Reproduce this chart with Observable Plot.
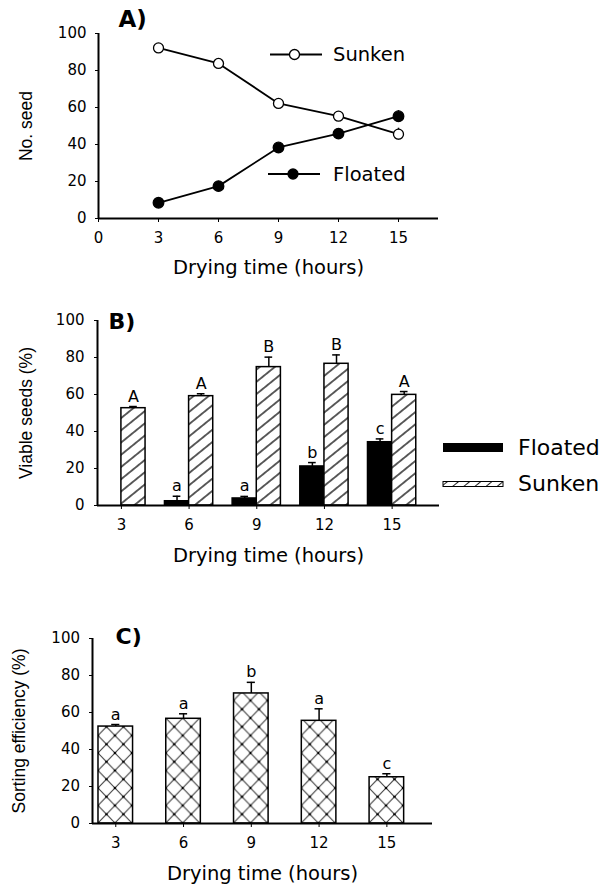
<!DOCTYPE html>
<html><head><meta charset="utf-8">
<script src="https://cdn.jsdelivr.net/npm/d3@7"></script>
<script src="https://cdn.jsdelivr.net/npm/@observablehq/plot@0.6"></script>
<style>
body{margin:0;background:#fff;}
#wrap{width:608px;height:885px;position:relative;overflow:hidden;}
#wrap svg{display:block;}
</style></head><body><div id="wrap"></div>
<script>
// ---------- data ----------
const hours = [3, 6, 9, 12, 15];
const yTicks = [0, 20, 40, 60, 80, 100];
const xTicksA = [0, 3, 6, 9, 12, 15];
const xLabel = "Drying time (hours)";
// Panel A: number of seeds
const sunkenCount = [92.2, 83.8, 62.2, 55.3, 45.6];
const sunkenCountErr = [1, 1, 1, 1.2, 3.2];
const floatedCount = [8.5, 17.5, 38.4, 45.9, 55.3];
const floatedCountErr = [1, 1, 1.2, 1.2, 3];
// Panel B: viable seeds (%)
const floatedViable = [0, 2.3, 3.8, 21.1, 34.2];
const floatedViableErr = [0, 2.7, 1.1, 2.1, 1.8];
const floatedLetters = ["", "a", "a", "b", "c"];
const sunkenViable = [52.6, 59.1, 74.8, 76.6, 59.8];
const sunkenViableErr = [0.9, 1.3, 5.4, 4.8, 1.8];
const sunkenLetters = ["A", "A", "B", "B", "A"];
// Panel C: sorting efficiency (%)
const sortingEff = [52.4, 56.6, 70.3, 55.5, 25.0];
const sortingErr = [1.1, 2.7, 6.0, 6.5, 1.9];
const sortingLetters = ["a", "a", "b", "a", "c"];

// ---------- helpers ----------
const FONT = "'DejaVu Sans', sans-serif";
const ROT = "'Liberation Sans', Arial, sans-serif";
const NS = "http://www.w3.org/2000/svg";
const wrap = document.getElementById("wrap");
function addDefs(svg, html) {
  const defs = document.createElementNS(NS, "defs");
  defs.innerHTML = html;
  svg.insertBefore(defs, svg.firstChild);
}
const baseStyle = {fontFamily: FONT, fontSize: "15px", color: "#000", background: "#fff", overflow: "visible"};
function legendText(g, x, y, size, label) {
  g.append("text").attr("x", x).attr("y", y).attr("text-anchor", "start")
    .attr("dominant-baseline", "central").attr("font-size", size)
    .attr("font-family", FONT).attr("fill", "#000").text(label);
}

// ---------- Panel A ----------
const rowsA = [
  ...hours.map((h, i) => ({h, series: "Sunken", v: sunkenCount[i], e: sunkenCountErr[i]})),
  ...hours.map((h, i) => ({h, series: "Floated", v: floatedCount[i], e: floatedCountErr[i]}))
];
const xDomA = [0, 17];
const plotA = Plot.plot({
  width: 608, height: 290, marginTop: 33, marginBottom: 72, marginLeft: 98, marginRight: 170,
  style: baseStyle,
  x: {domain: xDomA, ticks: xTicksA, tickSize: 4, tickPadding: 10, label: null},
  y: {domain: [0, 100], ticks: yTicks, tickSize: 3, tickPadding: 9, label: null},
  marks: [
    Plot.ruleX(rowsA, {x: "h", y1: d => d.v - d.e, y2: d => d.v + d.e, stroke: "#000", strokeWidth: 1.5}),
    Plot.line(rowsA, {x: "h", y: "v", z: "series", stroke: "#000", strokeWidth: 1.8}),
    Plot.dot(rowsA.filter(d => d.series === "Sunken"), {x: "h", y: "v", r: 5, fill: "#fff", stroke: "#000", strokeWidth: 1.3}),
    Plot.dot(rowsA.filter(d => d.series === "Floated"), {x: "h", y: "v", r: 5.3, fill: "#000", stroke: "#000", strokeWidth: 1.3}),
    Plot.ruleY([0], {x1: xDomA[0], x2: xDomA[1], stroke: "#000", strokeWidth: 2}),
    Plot.ruleX([xDomA[0]], {y1: 0, y2: 100, stroke: "#000", strokeWidth: 2}),
    Plot.text([xLabel], {text: d => d, frameAnchor: "bottom", dy: 49, fontSize: 19.5, textAnchor: "middle", lineAnchor: "middle"}),
    Plot.text(["No. seed"], {text: d => d, frameAnchor: "left", dx: -72.5, rotate: -90, fontSize: 17.5, fontFamily: ROT, textAnchor: "middle", lineAnchor: "middle"}),
    Plot.text(["A)"], {text: d => d, frameAnchor: "top-left", dx: 20, dy: -7, fontSize: 23, fontWeight: "bold", textAnchor: "start", lineAnchor: "bottom"})
  ]
});
wrap.appendChild(plotA);
// legend A
(function () {
  const g = d3.select(plotA).append("g");
  const items = [{label: "Sunken", y: 54.5, x1: 270, x2: 322, cx: 294.5, fill: "#fff"},
                 {label: "Floated", y: 174, x1: 268, x2: 320, cx: 293, fill: "#000"}];
  for (const it of items) {
    g.append("line").attr("x1", it.x1).attr("x2", it.x2).attr("y1", it.y).attr("y2", it.y).attr("stroke", "#000").attr("stroke-width", 1.8);
    g.append("circle").attr("cx", it.cx).attr("cy", it.y).attr("r", 5).attr("fill", it.fill).attr("stroke", "#000").attr("stroke-width", 1.3);
    legendText(g, 333, it.y, 19.5, it.label);
  }
})();

// ---------- Panel B ----------
const W_B = 1.07;
const xDomB = [1.94, 17.1];
const rowsBF = hours.map((h, i) => ({h, v: floatedViable[i], e: floatedViableErr[i], lab: floatedLetters[i], c: h - W_B / 2})).filter(d => d.v > 0);
const rowsBS = hours.map((h, i) => ({h, v: sunkenViable[i], e: sunkenViableErr[i], lab: sunkenLetters[i], c: h + W_B / 2}));
const rowsBAll = [...rowsBF, ...rowsBS];
const plotB = Plot.plot({
  width: 608, height: 300, marginTop: 30, marginBottom: 85, marginLeft: 97, marginRight: 169,
  style: baseStyle,
  x: {domain: xDomB, ticks: hours, tickSize: 4, tickPadding: 9.5, label: null},
  y: {domain: [0, 100], ticks: yTicks, tickSize: 3, tickPadding: 10, label: null},
  marks: [
    Plot.rect(rowsBF, {x1: d => d.h - W_B, x2: d => d.h, y1: 0, y2: "v", fill: "#000", stroke: "#000", strokeWidth: 1.5}),
    Plot.rect(rowsBS, {x1: d => d.h, x2: d => d.h + W_B, y1: 0, y2: "v", fill: "url(#hatchB)", stroke: "#000", strokeWidth: 1.5}),
    Plot.ruleX(rowsBAll, {x: "c", y1: "v", y2: d => d.v + d.e, stroke: "#000", strokeWidth: 1.5}),
    Plot.ruleY(rowsBAll, {y: d => d.v + d.e, x1: d => d.c - 0.17, x2: d => d.c + 0.17, stroke: "#000", strokeWidth: 1.5}),
    Plot.text(rowsBAll, {x: "c", y: d => d.v + d.e, text: "lab", dy: -5, lineAnchor: "bottom", fontSize: 16}),
    Plot.ruleY([0], {x1: xDomB[0], x2: xDomB[1], stroke: "#000", strokeWidth: 2}),
    Plot.ruleX([xDomB[0]], {y1: 0, y2: 100, stroke: "#000", strokeWidth: 2}),
    Plot.text([xLabel], {text: d => d, frameAnchor: "bottom", dy: 50, fontSize: 19.5, textAnchor: "middle", lineAnchor: "middle"}),
    Plot.text(["Viable seeds (%)"], {text: d => d, frameAnchor: "left", dx: -71, rotate: -90, fontSize: 17.5, fontFamily: ROT, textAnchor: "middle", lineAnchor: "middle"}),
    Plot.text(["B)"], {text: d => d, frameAnchor: "top-left", dx: 11, dy: 8, fontSize: 22, fontWeight: "bold", textAnchor: "start", lineAnchor: "bottom"})
  ]
});
addDefs(plotB, `
  <pattern id="hatchB" patternUnits="userSpaceOnUse" width="9.5" height="9.5" patternTransform="rotate(51)">
    <rect width="9.5" height="9.5" fill="#fff"/>
    <line x1="4.75" y1="-1" x2="4.75" y2="10.5" stroke="#000" stroke-width="1.25"/>
  </pattern>
  <pattern id="hatchL" patternUnits="userSpaceOnUse" width="7" height="7" patternTransform="rotate(51)">
    <rect width="7" height="7" fill="#fff"/>
    <line x1="3.5" y1="-1" x2="3.5" y2="8" stroke="#222" stroke-width="1"/>
  </pattern>`);
wrap.appendChild(plotB);
// legend B
(function () {
  const g = d3.select(plotB).append("g");
  g.append("rect").attr("x", 443).attr("y", 153).attr("width", 60).attr("height", 9).attr("fill", "#000");
  legendText(g, 518, 157.5, 22, "Floated");
  g.append("rect").attr("x", 443).attr("y", 191.5).attr("width", 60).attr("height", 5).attr("fill", "url(#hatchL)").attr("stroke", "#000").attr("stroke-width", 1);
  legendText(g, 518, 193.5, 22, "Sunken");
})();

// ---------- Panel C ----------
const W_C = 1.53;
const xDomC = [1.97, 17.02];
const rowsC = hours.map((h, i) => ({h, v: sortingEff[i], e: sortingErr[i], lab: sortingLetters[i]}));
const plotC = Plot.plot({
  width: 608, height: 295, marginTop: 48, marginBottom: 62, marginLeft: 92, marginRight: 176,
  style: baseStyle,
  x: {domain: xDomC, ticks: hours, tickSize: 4, tickPadding: 9.5, label: null},
  y: {domain: [0, 100], ticks: yTicks, tickSize: 3, tickPadding: 9.5, label: null},
  marks: [
    Plot.rect(rowsC, {x1: d => d.h - W_C / 2, x2: d => d.h + W_C / 2, y1: 0, y2: "v", fill: "url(#crossC)", stroke: "#000", strokeWidth: 1.5}),
    Plot.ruleX(rowsC, {x: "h", y1: "v", y2: d => d.v + d.e, stroke: "#000", strokeWidth: 1.5}),
    Plot.ruleY(rowsC, {y: d => d.v + d.e, x1: d => d.h - 0.18, x2: d => d.h + 0.18, stroke: "#000", strokeWidth: 1.5}),
    Plot.text(rowsC, {x: "h", y: d => d.v + d.e, text: "lab", dy: -5, lineAnchor: "bottom", fontSize: 16}),
    Plot.ruleY([0], {x1: xDomC[0], x2: xDomC[1], stroke: "#000", strokeWidth: 2}),
    Plot.ruleX([xDomC[0]], {y1: 0, y2: 100, stroke: "#000", strokeWidth: 2}),
    Plot.text([xLabel], {text: d => d, frameAnchor: "bottom", dy: 50, fontSize: 19.5, textAnchor: "middle", lineAnchor: "middle"}),
    Plot.text(["Sorting efficiency (%)"], {text: d => d, frameAnchor: "left", dx: -73, rotate: -90, fontSize: 17.5, fontFamily: ROT, textAnchor: "middle", lineAnchor: "middle"}),
    Plot.text(["C)"], {text: d => d, frameAnchor: "top-left", dx: 23, dy: 5, fontSize: 22, fontWeight: "bold", textAnchor: "start", lineAnchor: "bottom"})
  ]
});
(function () {
  const sx = plotC.scale("x"), sy = plotC.scale("y");
  const x0 = sx.apply(hours[0] - W_C / 2), x1 = sx.apply(hours[1] - W_C / 2);
  const tw = (x1 - x0) / 4, th = 17.5;
  const y0 = sy.apply(0);
  addDefs(plotC, `
  <pattern id="crossC" patternUnits="userSpaceOnUse" x="${x0}" y="${y0}" width="${tw}" height="${th}">
    <rect width="${tw}" height="${th}" fill="#fff"/>
    <path d="M0,0L${tw},${th}M${tw},0L0,${th}" stroke="#333" stroke-width="1"/>
    <circle cx="${tw / 2}" cy="${th / 2}" r="1.3" fill="#000"/>
    <circle cx="0" cy="0" r="1.3" fill="#000"/><circle cx="${tw}" cy="0" r="1.3" fill="#000"/>
    <circle cx="0" cy="${th}" r="1.3" fill="#000"/><circle cx="${tw}" cy="${th}" r="1.3" fill="#000"/>
  </pattern>`);
})();
wrap.appendChild(plotC);
</script>
</body></html>
